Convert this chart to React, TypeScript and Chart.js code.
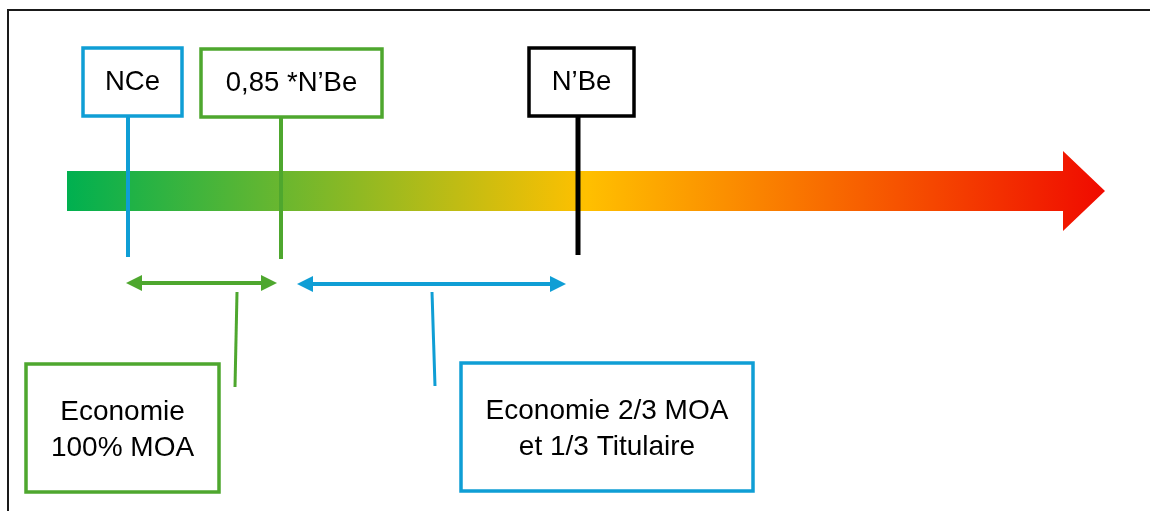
import React, { useEffect, useRef } from "react";
import { Chart, registerables } from "chart.js";

Chart.register(...registerables);

// ---- data ----
const markerLabels = ["NCe", "0,85 *N’Be", "N’Be"];
const markerValues = [128, 281, 578];
const markerColors = ["#0F9ED5", "#4EA72E", "#000000"];

const rangeLabels = [
  ["Economie", "100% MOA"],
  ["Economie 2/3 MOA", "et 1/3 Titulaire"],
];
const rangeStart = [126, 297];
const rangeEnd = [277, 566];
const rangeColors = ["#4EA72E", "#0F9ED5"];

const scaleStart = 67;
const scaleEnd = 1105;
const gradientStops = ["#00B050", "#FFC000", "#F00A00"];

// ---- layout (pixel-like diagram units) ----
const W = 1150;
const H = 511;
const topBoxes = [
  { x0: 83, x1: 182, y0: 48, y1: 116 },
  { x0: 201, x1: 382, y0: 49, y1: 117 },
  { x0: 529, x1: 634, y0: 48, y1: 116 },
];
const markerLineBottom = [257, 259, 255];
const markerLineWidth = [4, 4, 5];
const bottomBoxes = [
  { x0: 26, x1: 219, y0: 364, y1: 492 },
  { x0: 461, x1: 753, y0: 363, y1: 491 },
];
const calloutTicks = [
  { xa: 237, ya: 292, xb: 235, yb: 387 },
  { xa: 432, ya: 292, xb: 435, yb: 386 },
];
const rangeY = [283, 284];

const FONT = '"Liberation Sans", Arial, sans-serif';

export default function App() {
  const ref = useRef<HTMLCanvasElement>(null);

  useEffect(() => {
    if (!ref.current) return;

    const datasets: any[] = [];
    // frame
    datasets.push({
      data: [
        { x: 8, y: H },
        { x: 8, y: 10 },
        { x: W, y: 10 },
      ],
      borderColor: "#1a1a1a",
      borderWidth: 2,
      showLine: true,
      pointRadius: 0,
    });
    // marker lines
    markerValues.forEach((v, i) => {
      datasets.push({
        data: [
          { x: v, y: topBoxes[i].y1 },
          { x: v, y: markerLineBottom[i] },
        ],
        borderColor: markerColors[i],
        borderWidth: markerLineWidth[i],
        showLine: true,
        pointRadius: 0,
      });
    });
    // range shafts
    rangeStart.forEach((s, i) => {
      datasets.push({
        data: [
          { x: s + 10, y: rangeY[i] },
          { x: rangeEnd[i] - 10, y: rangeY[i] },
        ],
        borderColor: rangeColors[i],
        borderWidth: 4,
        showLine: true,
        pointRadius: 0,
      });
    });
    // callout ticks
    calloutTicks.forEach((t, i) => {
      datasets.push({
        data: [
          { x: t.xa, y: t.ya },
          { x: t.xb, y: t.yb },
        ],
        borderColor: rangeColors[i],
        borderWidth: 3,
        showLine: true,
        pointRadius: 0,
      });
    });

    const diagramPlugin = {
      id: "diagram",
      beforeDatasetsDraw(chart: any) {
        const { ctx, scales } = chart;
        const xs = scales.x;
        const ys = scales.y;
        const x0 = xs.getPixelForValue(scaleStart);
        const x1 = xs.getPixelForValue(scaleEnd);
        const headBase = xs.getPixelForValue(scaleEnd - 42);
        const yTop = ys.getPixelForValue(171);
        const yBot = ys.getPixelForValue(211);
        const hTop = ys.getPixelForValue(151);
        const hBot = ys.getPixelForValue(231);
        const yMid = ys.getPixelForValue(191);
        const g = ctx.createLinearGradient(x0, 0, x1, 0);
        g.addColorStop(0, gradientStops[0]);
        g.addColorStop(0.5, gradientStops[1]);
        g.addColorStop(1, gradientStops[2]);
        ctx.save();
        ctx.fillStyle = g;
        ctx.beginPath();
        ctx.moveTo(x0, yTop);
        ctx.lineTo(headBase, yTop);
        ctx.lineTo(headBase, hTop);
        ctx.lineTo(x1, yMid);
        ctx.lineTo(headBase, hBot);
        ctx.lineTo(headBase, yBot);
        ctx.lineTo(x0, yBot);
        ctx.closePath();
        ctx.fill();
        ctx.restore();
      },
      afterDatasetsDraw(chart: any) {
        const { ctx, scales } = chart;
        const xs = scales.x;
        const ys = scales.y;
        const px = (v: number) => xs.getPixelForValue(v);
        const py = (v: number) => ys.getPixelForValue(v);
        ctx.save();
        // arrow heads of ranges
        rangeStart.forEach((s, i) => {
          const e = rangeEnd[i];
          const y = py(rangeY[i]);
          ctx.fillStyle = rangeColors[i];
          ctx.beginPath();
          ctx.moveTo(px(s), y);
          ctx.lineTo(px(s + 16), y - 8);
          ctx.lineTo(px(s + 16), y + 8);
          ctx.closePath();
          ctx.fill();
          ctx.beginPath();
          ctx.moveTo(px(e), y);
          ctx.lineTo(px(e - 16), y - 8);
          ctx.lineTo(px(e - 16), y + 8);
          ctx.closePath();
          ctx.fill();
        });
        // top boxes
        ctx.textAlign = "center";
        ctx.textBaseline = "alphabetic";
        markerLabels.forEach((lab, i) => {
          const b = topBoxes[i];
          ctx.fillStyle = "#ffffff";
          ctx.fillRect(px(b.x0), py(b.y0), px(b.x1) - px(b.x0), py(b.y1) - py(b.y0));
          ctx.strokeStyle = markerColors[i];
          ctx.lineWidth = 3.5;
          ctx.strokeRect(px(b.x0), py(b.y0), px(b.x1) - px(b.x0), py(b.y1) - py(b.y0));
          ctx.fillStyle = "#000000";
          ctx.font = `27.5px ${FONT}`;
          ctx.fillText(lab, (px(b.x0) + px(b.x1)) / 2, py(b.y0 + 42));
        });
        // bottom boxes
        rangeLabels.forEach((lines, i) => {
          const b = bottomBoxes[i];
          ctx.fillStyle = "#ffffff";
          ctx.fillRect(px(b.x0), py(b.y0), px(b.x1) - px(b.x0), py(b.y1) - py(b.y0));
          ctx.strokeStyle = rangeColors[i];
          ctx.lineWidth = 3.5;
          ctx.strokeRect(px(b.x0), py(b.y0), px(b.x1) - px(b.x0), py(b.y1) - py(b.y0));
          ctx.fillStyle = "#000000";
          ctx.font = `28px ${FONT}`;
          lines.forEach((t, j) => {
            ctx.fillText(t, (px(b.x0) + px(b.x1)) / 2, py(b.y0 + 56 + j * 36));
          });
        });
        ctx.restore();
      },
    };

    const chart = new Chart(ref.current, {
      type: "scatter",
      data: { datasets },
      options: {
        animation: false,
        responsive: false,
        maintainAspectRatio: false,
        layout: { padding: 0 },
        plugins: {
          legend: { display: false },
          tooltip: { enabled: false },
        },
        events: [],
        scales: {
          x: { type: "linear", min: 0, max: W, display: false },
          y: { type: "linear", min: 0, max: H, reverse: true, display: false },
        },
      },
      plugins: [diagramPlugin],
    });
    return () => chart.destroy();
  }, []);

  return (
    <div style={{ position: "fixed", left: 0, top: 0, width: W, height: H, background: "#fff" }}>
      <canvas ref={ref} width={W} height={H} style={{ width: W, height: H, display: "block" }} />
    </div>
  );
}
